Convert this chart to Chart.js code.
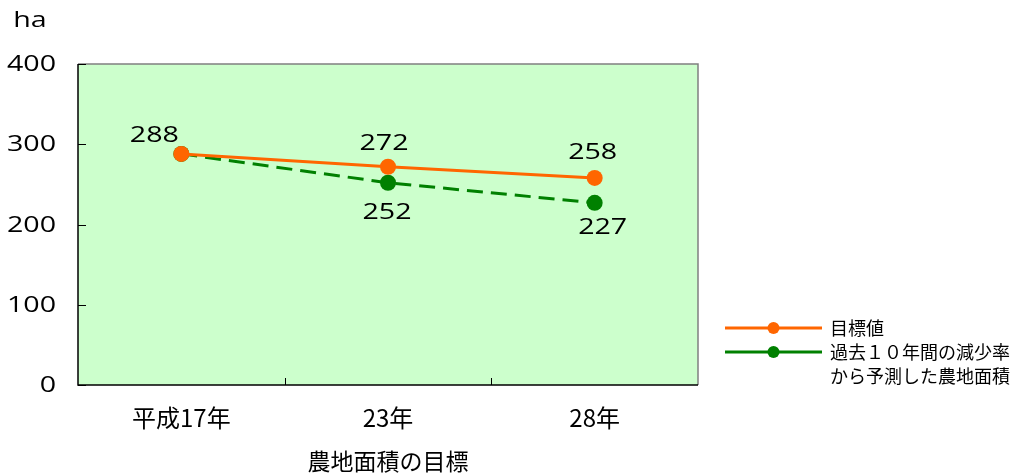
<!DOCTYPE html>
<html>
<head>
<meta charset="utf-8">
<script src="https://cdn.jsdelivr.net/npm/chart.js@4/dist/chart.umd.min.js"></script>
<style>
html,body{margin:0;padding:0;background:#fff;}
#wrap{width:1032px;height:475px;position:relative;}
</style>
</head>
<body>
<div id="wrap"><canvas id="c" width="1032" height="475"></canvas></div>
<script>
const categories = ['平成17年', '23年', '28年'];
const targetValues = [288, 272, 258];
const projectedValues = [288, 252, 227];
const targetLabel = '目標値';
const projectedLabel = ['過去１０年間の減少率', 'から予測した農地面積'];
const yTicks = [0, 100, 200, 300, 400];
const unitLabel = 'ha';
const xTitle = '農地面積の目標';

const ORANGE = '#FF6600';
const GREEN = '#008000';
const NUM_FONT = '400 22px "Open Sans", "Liberation Sans", sans-serif';
const NUM_SX = 1.3;
const JP = '"Noto Sans CJK JP", "Noto Sans", sans-serif';

function wideText(ctx, text, x, y, align) {
  ctx.save();
  ctx.translate(x, y);
  ctx.scale(NUM_SX, 1);
  ctx.font = NUM_FONT;
  ctx.textAlign = align;
  ctx.textBaseline = 'middle';
  ctx.fillText(text, 0, 0);
  ctx.restore();
}

const decor = {
  id: 'decor',
  beforeDraw(chart) {
    const {ctx, chartArea: a} = chart;
    ctx.save();
    ctx.fillStyle = '#CCFFCC';
    ctx.fillRect(a.left, a.top, a.right - a.left, a.bottom - a.top);
    ctx.restore();
  },
  beforeDatasetsDraw(chart) {
    const {ctx, chartArea: a, scales} = chart;
    ctx.save();
    ctx.strokeStyle = '#808080';
    ctx.lineWidth = 1.5;
    ctx.beginPath();
    ctx.moveTo(a.left, a.top); ctx.lineTo(a.right, a.top); ctx.lineTo(a.right, a.bottom);
    ctx.stroke();
    ctx.strokeStyle = '#000';
    ctx.beginPath();
    ctx.moveTo(a.left, a.top); ctx.lineTo(a.left, a.bottom); ctx.lineTo(a.right, a.bottom);
    ctx.stroke();
    ctx.lineWidth = 1;
    const y = scales.y;
    ctx.fillStyle = '#000';
    yTicks.forEach(v => {
      const py = Math.round(y.getPixelForValue(v)) + 0.5;
      ctx.beginPath(); ctx.moveTo(a.left, py); ctx.lineTo(a.left + 8, py); ctx.stroke();
      wideText(ctx, String(v), 56, py, 'right');
    });
    const x = scales.x;
    for (let i = 0; i < categories.length - 1; i++) {
      const px = Math.round((x.getPixelForTick(i) + x.getPixelForTick(i + 1)) / 2) + 0.5;
      ctx.beginPath(); ctx.moveTo(px, a.bottom); ctx.lineTo(px, a.bottom - 7); ctx.stroke();
    }
    wideText(ctx, unitLabel, 30, 21, 'center');
    ctx.restore();
  },
  afterDraw(chart, args, opts) {
    const {ctx} = chart;
    ctx.save();
    ctx.fillStyle = '#000';
    chart.data.datasets.forEach((ds, di) => {
      const meta = chart.getDatasetMeta(di);
      const offs = opts.labelOffsets[di];
      meta.data.forEach((pt, i) => {
        const o = offs[i];
        if (!o) return;
        wideText(ctx, String(ds.data[i]), pt.x + o[0], pt.y + o[1], 'center');
      });
    });
    const L = opts.legend;
    chart.data.datasets.forEach((ds, di) => {
      const ry = L.y + di * L.row;
      ctx.strokeStyle = ds.borderColor;
      ctx.lineWidth = 3;
      ctx.setLineDash([]);
      ctx.beginPath(); ctx.moveTo(L.x0, ry); ctx.lineTo(L.x1, ry); ctx.stroke();
      ctx.fillStyle = ds.borderColor;
      ctx.beginPath(); ctx.arc((L.x0 + L.x1) / 2, ry, 6, 0, Math.PI * 2); ctx.fill();
      ctx.fillStyle = '#000';
      ctx.font = '18px ' + JP;
      ctx.textAlign = 'left';
      ctx.textBaseline = 'middle';
      const lines = Array.isArray(ds.label) ? ds.label : [ds.label];
      lines.forEach((t, k) => ctx.fillText(t, L.tx, ry + k * L.row));
    });
    ctx.restore();
  }
};

new Chart(document.getElementById('c'), {
  type: 'line',
  data: {
    labels: categories,
    datasets: [
      {
        label: targetLabel,
        data: targetValues,
        borderColor: ORANGE,
        backgroundColor: ORANGE,
        pointBackgroundColor: ORANGE,
        borderWidth: 3,
        pointRadius: 8,
        pointBorderWidth: 0,
        tension: 0
      },
      {
        label: projectedLabel,
        data: projectedValues,
        borderColor: GREEN,
        backgroundColor: GREEN,
        pointBackgroundColor: GREEN,
        borderWidth: 3,
        borderDash: [16, 8],
        pointRadius: 8,
        pointBorderWidth: 0,
        tension: 0
      }
    ]
  },
  options: {
    responsive: false,
    animation: false,
    devicePixelRatio: 1,
    layout: {padding: {top: 64, right: 334, left: 0, bottom: 0}},
    plugins: {
      legend: {display: false},
      tooltip: {enabled: false},
      decor: {
        labelOffsets: [
          [[-27, -18], [-4, -23], [-2, -25]],
          [null, [-1, 30], [8, 25]]
        ],
        legend: {x0: 725, x1: 822, tx: 830, y: 328, row: 24}
      }
    },
    scales: {
      x: {
        type: 'category',
        offset: true,
        grid: {display: false, drawTicks: false},
        border: {display: false},
        ticks: {color: '#000', font: {family: JP, size: 24}, padding: 18, maxRotation: 0},
        title: {display: true, text: xTitle, color: '#000', font: {family: JP, size: 23}, padding: 0},
        afterFit(s) { s.height = 90; }
      },
      y: {
        min: 0, max: 400,
        grid: {display: false, drawTicks: false},
        border: {display: false},
        ticks: {display: false, stepSize: 100},
        afterFit(s) { s.width = 78; }
      }
    }
  },
  plugins: [decor]
});
</script>
</body>
</html>
